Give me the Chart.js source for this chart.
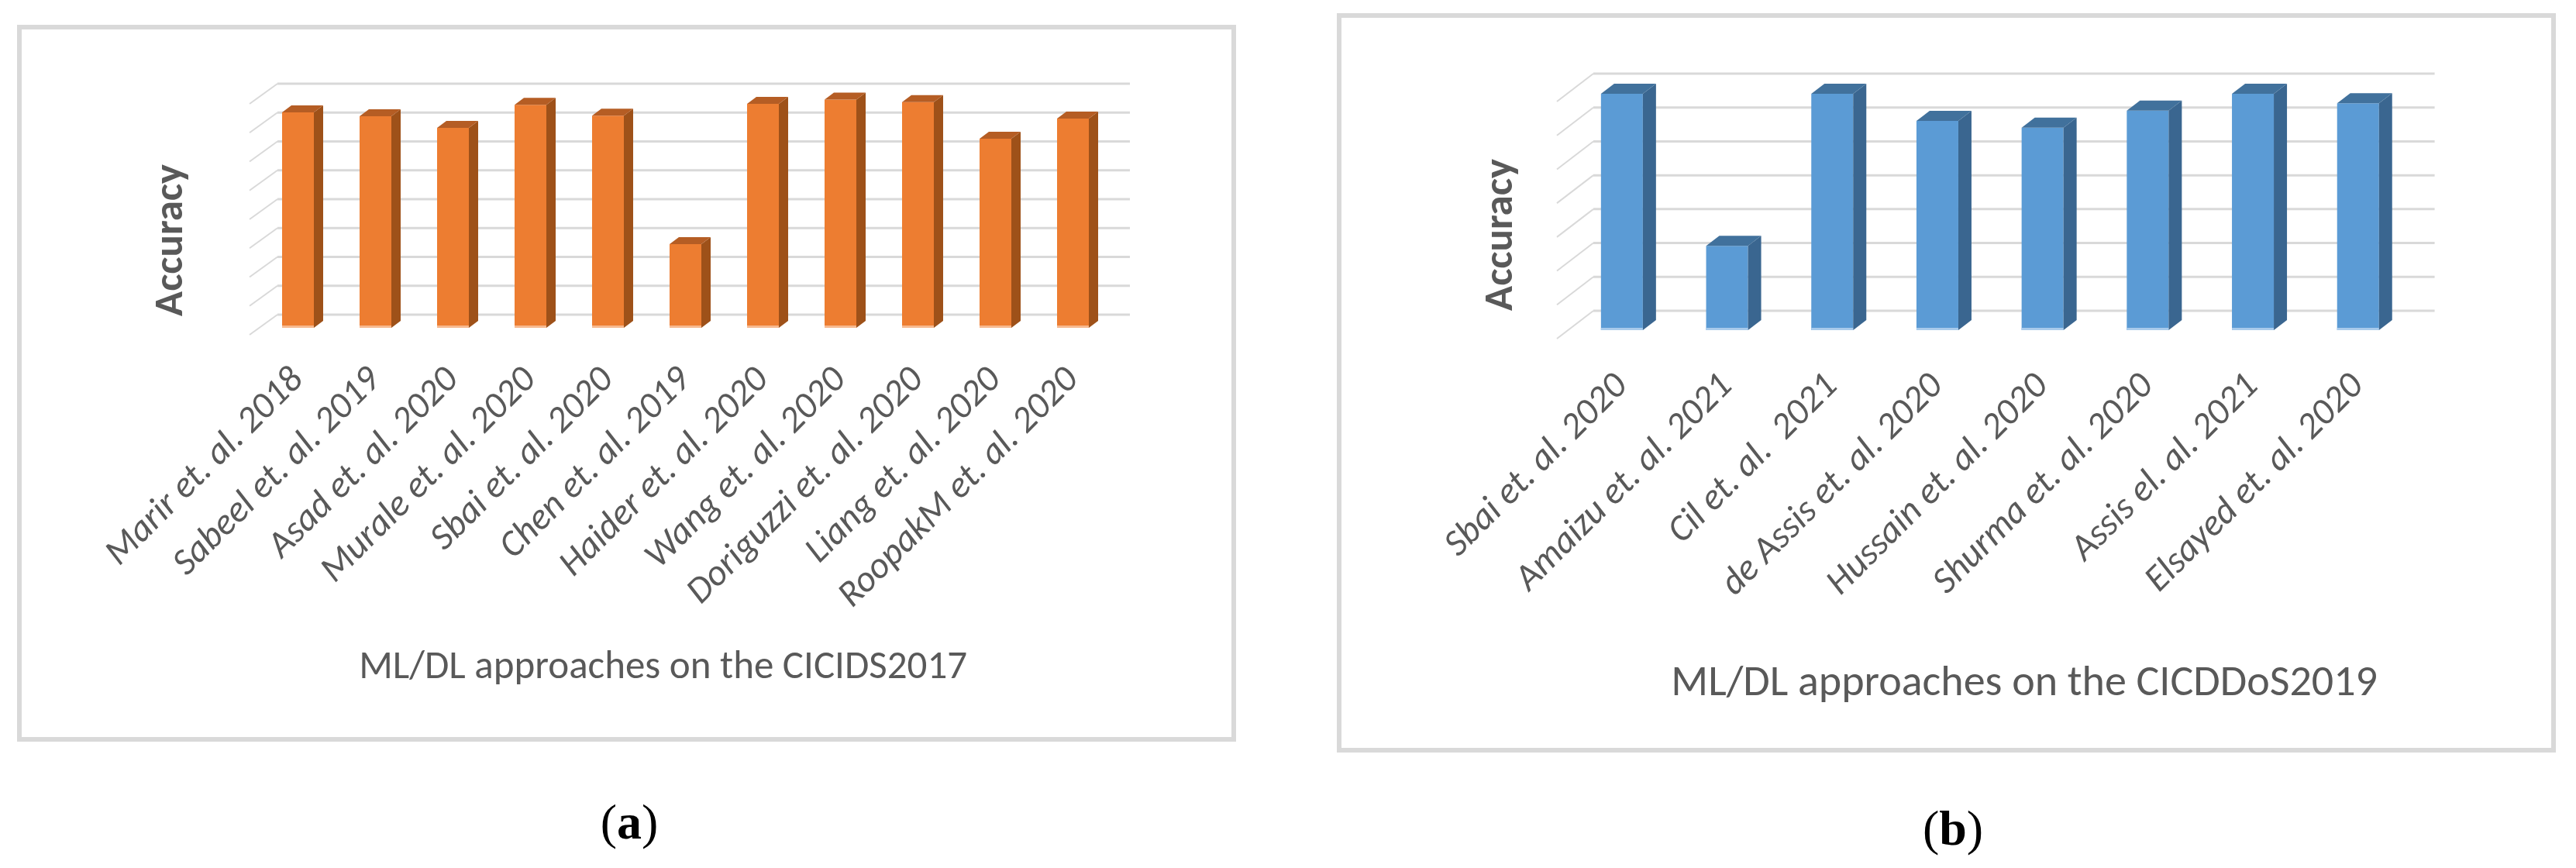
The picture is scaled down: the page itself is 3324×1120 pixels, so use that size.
<!DOCTYPE html>
<html>
<head>
<meta charset="utf-8">
<script src="https://cdn.jsdelivr.net/npm/chart.js@4.4.1/dist/chart.umd.min.js"></script>
<style>
  html, body { margin:0; padding:0; background:#fff; }
  body { width:3324px; height:1120px; position:relative; overflow:hidden; }
  .box { position:absolute; border:6px solid #d9d9d9; background:#fff; }
  .cap { position:absolute; font-family:"Liberation Serif", "DejaVu Serif", serif; font-size:64px; line-height:64px; color:#000; transform:translateX(-50%); white-space:nowrap; }
  .cap b { font-weight:bold; }
</style>
</head>
<body>
<div class="box" style="left:22px; top:32px; width:1561px; height:913px;"><canvas id="c1" width="1561" height="913"></canvas></div>
<div class="box" style="left:1725px; top:17px; width:1561px; height:942px;"><canvas id="c2" width="1561" height="942"></canvas></div>
<div class="cap" style="left:812px; top:1029px;">(<b>a</b>)</div>
<div class="cap" style="left:2520px; top:1037px;">(<b>b</b>)</div>
<script>
// ---- data ----
const cicidsLabels = ["Marir et. al. 2018", "Sabeel et. al. 2019", "Asad et. al. 2020", "Murale et. al. 2020", "Sbai et. al. 2020", "Chen et. al. 2019", "Haider et. al. 2020", "Wang et. al. 2020", "Doriguzzi et. al. 2020", "Liang et. al. 2020", "RoopakM et. al. 2020"];
const cicidsAccuracy = [93.3, 91.6, 86.6, 96.6, 91.9, 36.2, 97.0, 98.8, 97.7, 81.9, 90.6];
const cicddosLabels = ["Sbai et. al. 2020", "Amaizu et. al. 2021", "Cil et. al.  2021", "de Assis et. al. 2020", "Hussain et. al. 2020", "Shurma et. al. 2020", "Assis el. al. 2021", "Elsayed et. al. 2020"];
const cicddosAccuracy = [99.7, 35.5, 99.7, 88.2, 85.4, 92.6, 99.7, 95.7];
const axisMin = 0;
const axisMax = 100;
const cicidsTickCount = 9;
const cicddosTickCount = 8;
const yTitle = "Accuracy";
const cicidsTitle = "ML/DL approaches on the CICIDS2017";
const cicddosTitle = "ML/DL approaches on the CICDDoS2019";

const FONT = "Carlito, Lato, 'Liberation Sans', sans-serif";
Chart.defaults.font.family = FONT;
Chart.defaults.color = "#595959";

// pad a title with spaces so that it sits where the original one sits
const padEnd = (s, n) => s + " ".repeat(n);
const padStart = (s, n) => " ".repeat(n) + s;

const bar3d = {
  id: 'bar3d',
  beforeDatasetsDraw(chart, args, o) {
    const { ctx, chartArea: a, scales: { y } } = chart;
    ctx.save();
    ctx.strokeStyle = o.gridColor;
    ctx.lineCap = 'butt';
    y.ticks.forEach(t => {
      const py = y.getPixelForValue(t.value) + o.wallDy;
      const lx = a.left + o.wallDx;
      ctx.lineWidth = o.gridWidth;
      ctx.beginPath(); ctx.moveTo(lx, py); ctx.lineTo(a.right + o.wallDx, py); ctx.stroke();
      ctx.lineWidth = o.diagWidth;
      ctx.beginPath(); ctx.moveTo(lx, py); ctx.lineTo(lx - o.floorDx, py + o.floorDy); ctx.stroke();
    });
    ctx.restore();
  },
  afterDatasetsDraw(chart, args, o) {
    const { ctx } = chart;
    const meta = chart.getDatasetMeta(0);
    ctx.save();
    meta.data.forEach(bar => {
      const { x, y, base, width } = bar.getProps(['x', 'y', 'base', 'width'], true);
      const l = x - width / 2, r = x + width / 2;
      const dx = o.dx, dy = o.dy;
      ctx.fillStyle = o.side;
      ctx.beginPath();
      ctx.moveTo(r, base); ctx.lineTo(r + dx, base + dy); ctx.lineTo(r + dx, y + dy); ctx.lineTo(r, y);
      ctx.closePath(); ctx.fill();
      ctx.fillStyle = o.top;
      ctx.beginPath();
      ctx.moveTo(l, y); ctx.lineTo(l + dx, y + dy); ctx.lineTo(r + dx, y + dy); ctx.lineTo(r, y);
      ctx.closePath(); ctx.fill();
      ctx.fillStyle = o.baseLine;
      ctx.fillRect(l, base - 3, width, 3);
    });
    ctx.restore();
  }
};

function makeChart(id, labels, values, tickCount, xTitle, yTitleText, cfg) {
  return new Chart(document.getElementById(id), {
    type: 'bar',
    data: {
      labels: labels,
      datasets: [{
        data: values,
        backgroundColor: cfg.front,
        borderWidth: 0,
        barPercentage: cfg.barPct,
        categoryPercentage: 1
      }]
    },
    plugins: [bar3d],
    options: {
      responsive: false,
      animation: false,
      events: [],
      layout: { padding: { top: cfg.padTop, right: cfg.padRight, left: 0, bottom: 0 } },
      plugins: {
        legend: { display: false },
        tooltip: { enabled: false },
        bar3d: cfg.d3
      },
      scales: {
        x: {
          grid: { display: false, drawTicks: false },
          border: { display: false },
          ticks: {
            autoSkip: false, minRotation: 45, maxRotation: 45,
            padding: cfg.tickPad, color: "#595959",
            font: { size: 48, style: 'italic' }
          },
          title: {
            display: true, text: xTitle, color: "#595959",
            font: { size: cfg.titleSize }, padding: { top: 0, bottom: cfg.titlePadBottom }
          },
          afterFit: s => { s.height = cfg.xHeight; }
        },
        y: {
          min: axisMin, max: axisMax,
          grid: { display: false },
          border: { display: false },
          ticks: { display: false, count: tickCount },
          title: {
            display: true, text: yTitleText, color: "#595959",
            font: { size: 53, weight: 'bold' }, padding: { top: cfg.yTitlePad, bottom: 0 }
          },
          afterFit: s => { s.width = cfg.yWidth; }
        }
      }
    }
  });
}

makeChart('c1', cicidsLabels, cicidsAccuracy, cicidsTickCount,
  padEnd(cicidsTitle, 5), padEnd(yTitle, 6), {
  front: '#ED7D31', barPct: 0.41,
  padTop: 87, padRight: 154.5, yWidth: 306.5, xHeight: 528,
  tickPad: 40, titleSize: 51, titlePadBottom: 58, yTitlePad: 162,
  d3: { dx: 12, dy: -9, side: '#9E5119', top: '#B55D24', baseLine: '#F7B98F',
        gridColor: '#d9d9d9', gridWidth: 3, diagWidth: 2,
        wallDx: 23.5, wallDy: -17, floorDx: 36, floorDy: 26 }
});

makeChart('c2', cicddosLabels, cicddosAccuracy, cicddosTickCount,
  padStart(cicddosTitle, 7), padEnd(yTitle, 5), {
  front: '#5B9BD5', barPct: 0.398,
  padTop: 97, padRight: 181.4, yWidth: 294, xHeight: 539,
  tickPad: 45, titleSize: 56, titlePadBottom: 48, yTitlePad: 175,
  d3: { dx: 17, dy: -13, side: '#3A6690', top: '#41719C', baseLine: '#A9CBEB',
        gridColor: '#d9d9d9', gridWidth: 3, diagWidth: 2,
        wallDx: 31, wallDy: -25, floorDx: 47, floorDy: 36 }
});
</script>
</body>
</html>
